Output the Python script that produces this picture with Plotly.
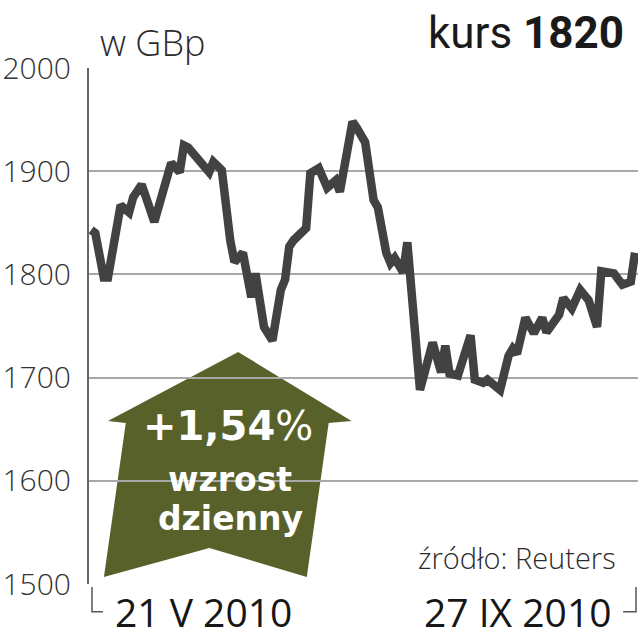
import pandas as pd
import plotly.graph_objects as go

# kurs akcji (GBp), 21 V 2010 - 27 IX 2010
start_date = "2010-05-21"
day_offsets = [
    0, 1, 3, 4, 7, 9, 10, 12, 15, 19, 21, 22, 23, 26, 28, 29, 31, 33, 34, 36,
    38, 39, 41, 43, 45, 46, 47, 48, 51, 52, 54, 56, 58, 59, 61, 62, 63, 65, 67, 68,
    70, 71, 72, 74, 75, 78, 81, 83, 84, 85, 87, 90, 91, 93, 94, 97, 99, 100, 101, 103,
    105, 107, 108, 111, 112, 114, 116, 118, 120, 121, 124, 126, 128, 129,
]
prices = [
    1843, 1840, 1797, 1797, 1867, 1860, 1875, 1887, 1851, 1908, 1899, 1925, 1923, 1909, 1899, 1909, 1901, 1833, 1812, 1821,
    1778, 1801, 1749, 1736, 1785, 1795, 1827, 1833, 1845, 1898, 1903, 1884, 1891, 1880, 1921, 1948, 1942, 1928, 1872, 1865,
    1821, 1811, 1816, 1802, 1831, 1688, 1734, 1705, 1731, 1704, 1702, 1741, 1698, 1695, 1698, 1688, 1721, 1728, 1723, 1758,
    1743, 1758, 1744, 1761, 1777, 1767, 1785, 1775, 1749, 1803, 1801, 1790, 1793, 1821,
]
y_ticks = [1500, 1600, 1700, 1800, 1900, 2000]
last_price = 1820
daily_change = "+1,54"
first_label = "21 V 2010"
last_label = "27 IX 2010"

dates = pd.Timestamp(start_date) + pd.to_timedelta(day_offsets, unit="D")

LINE = "#424242"
OLIVE = "#59612a"
TEXT = "#2b2b2b"
LIGHT = "Open Sans"
BOLD = "DejaVu Sans"

fig = go.Figure()
fig.add_trace(
    go.Scatter(
        x=dates,
        y=prices,
        mode="lines",
        line={"color": LINE, "width": 8.5},
        hoverinfo="skip",
        showlegend=False,
    )
)

# strzalka w gore
arrow = [
    (0.2717, 0.4496), (0.4783, 0.3159), (0.4366, 0.3120), (0.3967, 0.0136),
    (0.2192, 0.0698), (0.0272, 0.0136), (0.0670, 0.3120), (0.0344, 0.3159),
]
path = "M " + " L ".join(f"{x},{y}" for x, y in arrow) + " Z"
fig.add_shape(
    type="path", path=path, xref="paper", yref="paper",
    fillcolor=OLIVE, line={"width": 0}, layer="between",
)

# nawiasy pod osia
bracket = {"color": "#555555", "width": 1.5}
fig.add_shape(type="path", xref="paper", yref="paper",
              path="M 0.0054,-0.006 L 0.0054,-0.054 L 0.0254,-0.054", line=bracket)
fig.add_shape(type="path", xref="paper", yref="paper",
              path="M 0.9964,-0.006 L 0.9964,-0.054 L 0.9728,-0.054", line=bracket)

fig.add_annotation(text="w GBp", x=0.0163, y=1.05, xref="paper", yref="paper",
                   xanchor="left", yanchor="middle", showarrow=False,
                   font={"family": LIGHT, "size": 36, "color": TEXT, "weight": 300})
fig.add_annotation(text=f"kurs <b>{last_price}</b>", x=0.978, y=1.068, xref="paper", yref="paper",
                   xanchor="right", yanchor="middle", showarrow=False,
                   font={"family": "Roboto", "size": 44, "color": "#1a1a1a"})
fig.add_annotation(text=f"<b>{daily_change}</b>%", x=0.2527, y=0.307, xref="paper", yref="paper",
                   xanchor="center", yanchor="middle", showarrow=False,
                   font={"family": BOLD, "size": 40, "color": "white"})
fig.add_annotation(text="<b>wzrost</b>", x=0.2572, y=0.203, xref="paper", yref="paper",
                   xanchor="center", yanchor="middle", showarrow=False,
                   font={"family": BOLD, "size": 33, "color": "white"})
fig.add_annotation(text="<b>dzienny</b>", x=0.2572, y=0.126, xref="paper", yref="paper",
                   xanchor="center", yanchor="middle", showarrow=False,
                   font={"family": BOLD, "size": 33, "color": "white"})
fig.add_annotation(text="źródło: Reuters", x=0.9638, y=0.052, xref="paper", yref="paper",
                   xanchor="right", yanchor="middle", showarrow=False,
                   font={"family": LIGHT, "size": 29, "color": TEXT, "weight": 300})
fig.add_annotation(text=first_label, x=0.0435, y=-0.054, xref="paper", yref="paper",
                   xanchor="left", yanchor="middle", showarrow=False,
                   font={"family": LIGHT, "size": 39, "color": "#161616"})
fig.add_annotation(text=last_label, x=0.9547, y=-0.054, xref="paper", yref="paper",
                   xanchor="right", yanchor="middle", showarrow=False,
                   font={"family": LIGHT, "size": 39, "color": "#161616"})

fig.update_layout(
    width=640,
    height=640,
    margin={"l": 86, "r": 2, "t": 68, "b": 56},
    paper_bgcolor="white",
    plot_bgcolor="white",
    showlegend=False,
)
fig.update_xaxes(
    range=["2010-05-20 12:00", "2010-09-27 17:00"],
    showgrid=False, zeroline=False, showticklabels=False, showline=False, ticks="",
)
fig.update_yaxes(
    range=[1500, 2000],
    tickvals=y_ticks,
    ticktext=[str(v) for v in y_ticks],
    showgrid=True, gridcolor="#a8a8a8", gridwidth=1.5,
    zeroline=False,
    showline=True, linecolor="#666666", linewidth=2,
    ticks="", ticklabelstandoff=10,
    tickfont={"family": LIGHT, "size": 30, "color": "#333333", "weight": 300},
)

# strona bez marginesu, zeby wykres zajal cale okno 640x640
fig.write_html(
    "out.html",
    config={"displayModeBar": False},
    post_script="document.body.style.margin = '0';",
)
